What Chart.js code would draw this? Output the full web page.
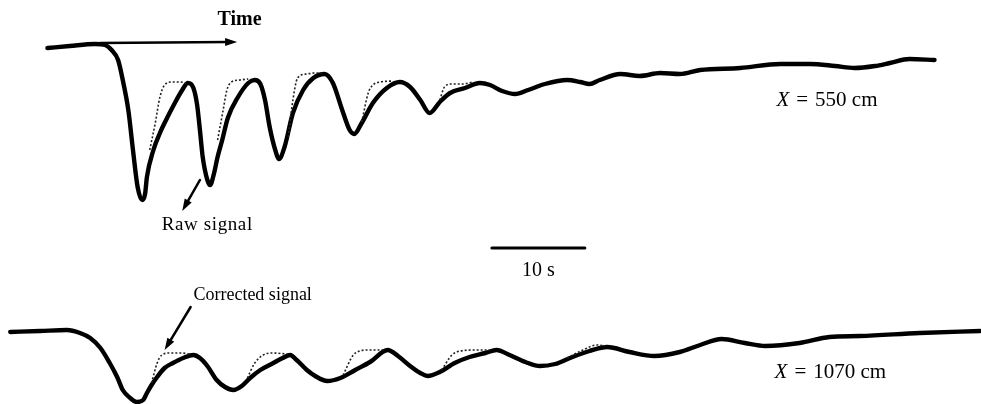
<!DOCTYPE html>
<html>
<head>
<meta charset="utf-8">
<title>Raw and corrected wave-gauge signals</title>
<script src="https://cdn.jsdelivr.net/npm/chart.js@4/dist/chart.umd.min.js"></script>
<style>
  html, body { margin: 0; padding: 0; background: #fff; }
  #wrap { width: 981px; height: 404px; }
</style>
</head>
<body>
<div id="wrap"><canvas id="c" width="981" height="404"></canvas></div>
<script>
// Time in seconds, amplitude in recorder units relative to each trace's still-water level.

// Gauge at X = 550 cm, raw signal
const timeTopRaw = [5.1, 7.5, 10.2, 11.3, 12.0, 12.7, 13.2, 13.8, 14.3, 14.8, 15.3, 15.6, 15.8, 16.5, 17.2, 17.7, 18.8, 19.6, 20.2, 20.8,
  21.2, 21.5, 21.8, 22.3, 22.6, 23.0, 23.4, 23.9, 24.5, 25.6, 26.7, 27.4, 28.0, 28.5, 29.0, 29.6, 30.0, 30.6, 31.5, 32.6,
  33.7, 34.9, 35.8, 36.8, 37.6, 38.1, 38.9, 40.1, 41.6, 43.0, 44.1, 45.2, 46.2, 47.3, 48.4, 50.0, 51.6, 52.7, 54.0, 55.4,
  56.8, 58.6, 61.0, 62.4, 63.4, 64.5, 66.7, 68.8, 71.0, 73.1, 75.3, 79.6, 83.9, 87.1, 89.8, 91.9, 94.1, 95.7, 97.8, 100.5];
const ampTopRaw = [-3, -1, 1, 0, -5, -15, -35, -65, -105, -142, -155, -149, -132, -105, -88, -78, -58, -45, -38, -43,
  -60, -85, -112, -135, -140, -129, -112, -95, -73, -52, -38, -35, -39, -55, -82, -105, -114, -102, -68, -45,
  -33, -29, -38, -65, -85, -89, -78, -58, -43, -37, -42, -55, -68, -57, -48, -43, -38, -40, -46, -49,
  -45, -39, -35, -37, -39, -35, -29, -31, -28, -29, -25, -23, -19, -19, -21, -23, -21, -18, -14, -15];

// Gauge at X = 550 cm, corrected signal (only where it departs from the raw trace; null separates pieces)
const timeTopCorr = [16.1, 16.7, 17.2, 17.7, 18.5, 19.4, 20.0, null,
  23.4, 24.0, 24.4, 24.9, 25.8, 26.7, null,
  31.0, 31.5, 32.0, 33.0, 33.9, 34.7, null,
  38.9, 39.6, 40.1, 40.9, 42.2, null,
  47.3, 47.8, 48.6, 49.7, 50.9];
const ampTopCorr = [-105, -78, -52, -40, -37, -37, -38, null,
  -95, -65, -45, -37, -35, -34, null,
  -92, -55, -33, -29, -28, -28, null,
  -77, -48, -40, -37, -36, null,
  -55, -42, -39, -39, -37];

// Gauge at X = 1070 cm, raw signal
const timeBotRaw = [1.1, 4.3, 7.2, 8.6, 9.7, 10.8, 11.8, 12.6, 13.2, 14.0, 14.7, 15.4, 15.8, 16.3, 16.9, 17.7, 18.6, 19.7, 20.8, 21.5,
  22.3, 23.3, 24.2, 25.1, 26.0, 26.9, 28.0, 29.4, 30.4, 31.2, 31.9, 33.0, 33.9, 35.2, 36.6, 38.2, 39.8, 41.7, 42.8, 44.1,
  45.2, 46.0, 47.3, 48.9, 50.5, 52.2, 53.4, 54.8, 56.5, 58.1, 59.7, 61.3, 63.4, 65.3, 67.7, 70.4, 73.1, 75.3, 77.6, 80.1,
  82.3, 86.0, 89.2, 92.5, 98.9, 105.4];
const ampBotRaw = [0, 1, 2, -1, -6, -16, -31, -45, -58, -66, -70, -68, -61, -53, -45, -36, -31, -26, -23, -26,
  -34, -48, -55, -58, -54, -46, -38, -31, -26, -23, -28, -38, -44, -49, -46, -38, -30, -18, -24, -34,
  -41, -44, -40, -31, -25, -21, -18, -23, -30, -34, -32, -26, -19, -15, -20, -24, -20, -13, -7, -11,
  -14, -11, -5, -4, -1, 1];

// Gauge at X = 1070 cm, corrected signal
const timeBotCorr = [16.3, 16.9, 17.4, 18.3, 19.4, 20.4, null,
  26.6, 27.4, 28.3, 29.2, 30.9, null,
  36.9, 38.0, 38.7, 39.5, 41.4, null,
  47.5, 48.6, 49.5, 51.1, 52.7, null,
  61.0, 61.8, 62.7, 64.2, 65.1];
const ampBotCorr = [-51, -31, -23, -21, -21, -22, null,
  -46, -31, -23, -21, -22, null,
  -43, -23, -19, -18, -18, null,
  -38, -23, -19, -18, -18, null,
  -26, -22, -18, -13, -14];

// Length of the time scale bar, seconds
const scaleBarSeconds = 10;

// Vertical placement of each trace on the shared y scale
const TOP_OFFSET = -45;
const BOT_OFFSET = -332;

function toPoints(ts, as, offset) {
  return ts.map((t, i) => ({ x: t === null ? null : t, y: as[i] === null ? null : as[i] + offset }));
}

const SERIF = '"Liberation Serif", "DejaVu Serif", serif';

// Text labels, arrows and the scale bar, placed in data coordinates
const annotations = {
  id: 'annotations',
  afterDatasetsDraw(chart) {
    const { ctx, scales } = chart;
    const X = v => scales.x.getPixelForValue(v);
    const Y = v => scales.y.getPixelForValue(v);

    function arrow(t0, y0, t1, y1, width) {
      const x0 = X(t0), yy0 = Y(y0), x1 = X(t1), yy1 = Y(y1);
      const ang = Math.atan2(yy1 - yy0, x1 - x0);
      const hl = 12, hw = 4;
      ctx.save();
      ctx.strokeStyle = '#000';
      ctx.fillStyle = '#000';
      ctx.lineWidth = width;
      ctx.lineCap = 'round';
      ctx.beginPath();
      ctx.moveTo(x0, yy0);
      ctx.lineTo(x1 - Math.cos(ang) * hl * 0.8, yy1 - Math.sin(ang) * hl * 0.8);
      ctx.stroke();
      ctx.beginPath();
      ctx.moveTo(x1, yy1);
      ctx.lineTo(x1 - Math.cos(ang) * hl - Math.sin(ang) * hw, yy1 - Math.sin(ang) * hl + Math.cos(ang) * hw);
      ctx.lineTo(x1 - Math.cos(ang) * hl + Math.sin(ang) * hw, yy1 - Math.sin(ang) * hl - Math.cos(ang) * hw);
      ctx.closePath();
      ctx.fill();
      ctx.restore();
    }

    function text(str, t, y, align, size, weight, spacing) {
      ctx.save();
      ctx.fillStyle = '#000';
      ctx.font = (weight || 'normal') + ' ' + size + 'px ' + SERIF;
      if (spacing) ctx.letterSpacing = spacing;
      ctx.textAlign = align;
      ctx.textBaseline = 'middle';
      ctx.fillText(str, X(t), Y(y));
      ctx.restore();
    }

    function gaugeLabel(num, t, y) {
      ctx.save();
      ctx.fillStyle = '#000';
      ctx.textBaseline = 'middle';
      ctx.textAlign = 'left';
      ctx.font = 'italic 21px ' + SERIF;
      const x0 = X(t), yy = Y(y);
      ctx.fillText('X', x0, yy);
      let x = x0 + ctx.measureText('X').width + 7;
      ctx.font = '21px ' + SERIF;
      ctx.fillText('=', x, yy);
      x += ctx.measureText('=').width + 7;
      ctx.fillText(num + ' cm', x, yy);
      ctx.restore();
    }

    // Time direction
    text('Time', 23.4, -20, 'left', 20, 'bold');
    arrow(10.8, -43, 25.5, -42, 2.5);

    // Raw signal pointer
    text('Raw signal', 17.4, -225, 'left', 19, 'normal', '0.6px');
    arrow(21.5, -180, 19.6, -211, 2.5);

    // 10 s scale bar
    const barStart = 52.9;
    ctx.save();
    ctx.strokeStyle = '#000';
    ctx.lineWidth = 3;
    ctx.lineCap = 'round';
    ctx.beginPath();
    ctx.moveTo(X(barStart), Y(-248));
    ctx.lineTo(X(barStart + scaleBarSeconds), Y(-248));
    ctx.stroke();
    ctx.restore();
    text(scaleBarSeconds + ' s', barStart + scaleBarSeconds / 2, -271, 'center', 20);

    // Corrected signal pointer
    text('Corrected signal', 20.8, -295, 'left', 18);
    arrow(20.5, -307, 17.7, -350, 2.5);

    // Gauge positions
    gaugeLabel('550', 83.5, -100);
    gaugeLabel('1070', 83.3, -372);
  }
};

const solid = { borderColor: '#000', borderWidth: 4.4, cubicInterpolationMode: 'monotone', pointRadius: 0, fill: false, borderCapStyle: 'round', borderJoinStyle: 'round' };
const dotted = { borderColor: '#222', borderWidth: 1.6, borderDash: [2, 2], cubicInterpolationMode: 'monotone', pointRadius: 0, fill: false, spanGaps: false };

new Chart(document.getElementById('c'), {
  type: 'line',
  data: {
    datasets: [
      Object.assign({ label: 'Corrected signal, X = 550 cm', data: toPoints(timeTopCorr, ampTopCorr, TOP_OFFSET) }, dotted),
      Object.assign({ label: 'Raw signal, X = 550 cm', data: toPoints(timeTopRaw, ampTopRaw, TOP_OFFSET) }, solid),
      Object.assign({ label: 'Corrected signal, X = 1070 cm', data: toPoints(timeBotCorr, ampBotCorr, BOT_OFFSET) }, dotted),
      Object.assign({ label: 'Raw signal, X = 1070 cm', data: toPoints(timeBotRaw, ampBotRaw, BOT_OFFSET) }, solid)
    ]
  },
  options: {
    responsive: false,
    devicePixelRatio: 1,
    animation: false,
    layout: { padding: 0 },
    plugins: { legend: { display: false }, tooltip: { enabled: false } },
    scales: {
      x: { type: 'linear', min: 0, max: 105.5, display: false },
      y: { type: 'linear', min: -404, max: 0, display: false }
    }
  },
  plugins: [annotations]
});
</script>
</body>
</html>
